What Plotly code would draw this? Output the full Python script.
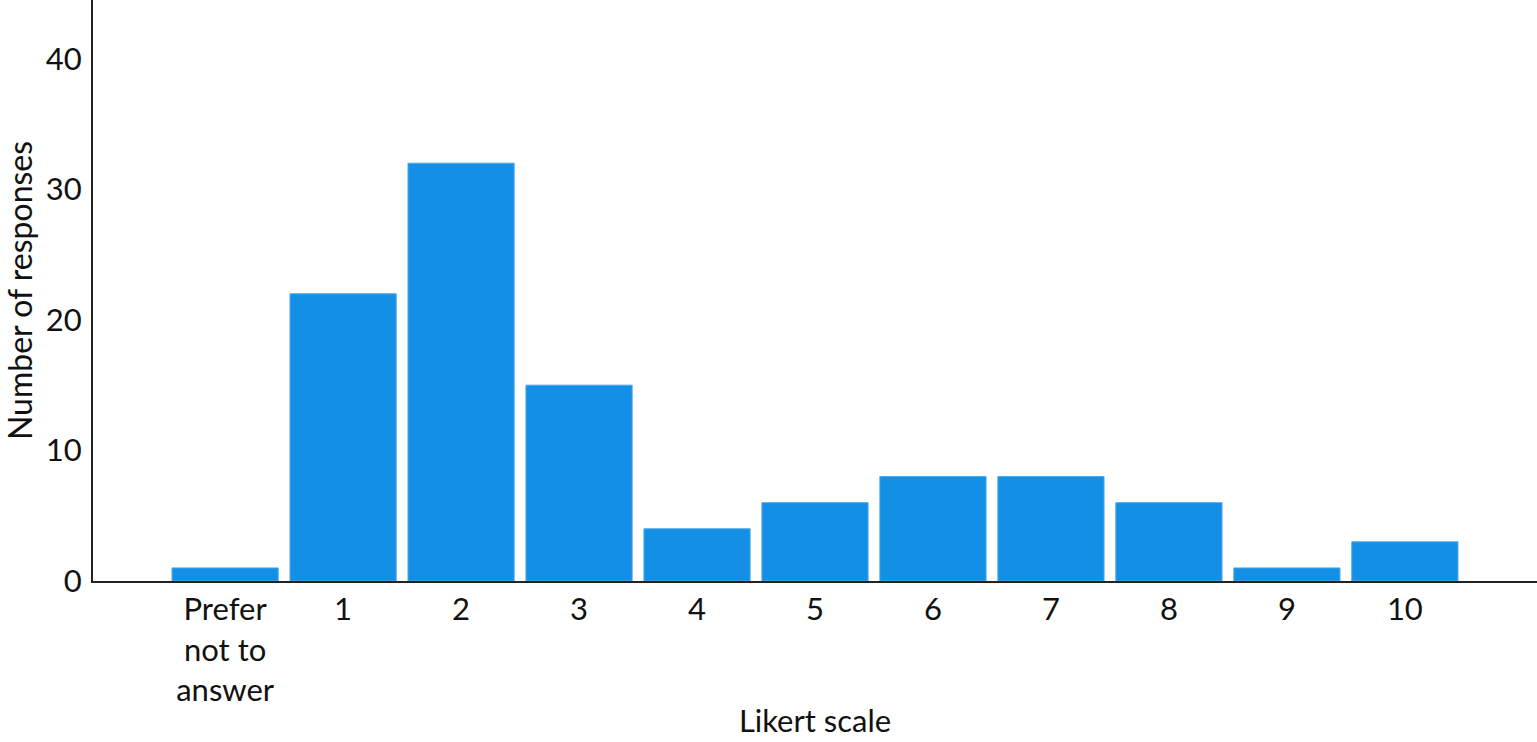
import plotly.graph_objects as go

categories = ['Prefer<br>not to<br>answer', '1', '2', '3', '4', '5', '6', '7', '8', '9', '10']
responses = [1, 22, 32, 15, 4, 6, 8, 8, 6, 1, 3]
y_ticks = [0, 10, 20, 30, 40]

FONT = 'Lato, sans-serif'

fig = go.Figure()

fig.add_trace(go.Bar(
    x=categories, y=responses,
    marker=dict(color='#1390E6', line=dict(color='#4AA8EC', width=1)),
    showlegend=False,
))

fig.update_layout(
    width=1537, height=742,
    paper_bgcolor='white', plot_bgcolor='white',
    margin=dict(l=93, r=0, t=0, b=161),
    bargap=0.1,
    font=dict(family=FONT, size=31, color='#111111'),
)
fig.update_xaxes(
    type='category', range=[-1.12, 11.12],
    showline=True, linecolor='#222222', linewidth=2,
    showgrid=False, zeroline=False, ticks='',
    tickfont=dict(size=31),
    title=dict(text='Likert scale', font=dict(size=31), standoff=4),
)
fig.update_yaxes(
    range=[0, 44.5], tickvals=y_ticks,
    showline=True, linecolor='#222222', linewidth=2,
    showgrid=False, zeroline=False, ticks='',
    ticklabelstandoff=3,
    title=dict(text='Number of responses', font=dict(size=32), standoff=20),
)

# page has a default 8px body margin; drop it so the figure fills the window
fig.write_html('out.html', config={'displayModeBar': False},
               post_script="document.body.style.margin='0';")
